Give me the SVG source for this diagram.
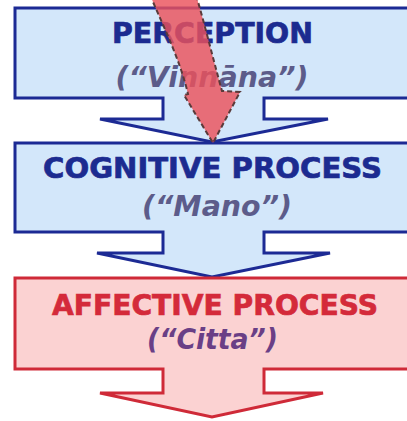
<svg xmlns="http://www.w3.org/2000/svg" width="407" height="421" viewBox="0 0 407 421">
  <style>
    .blue { fill: #d3e7fa; stroke: #1c2a94; stroke-width: 3; stroke-linejoin: miter; }
    .pink { fill: #fbd2d2; stroke: #cf2a38; stroke-width: 3; stroke-linejoin: miter; }
    .title { font-family: "DejaVu Sans", Verdana, sans-serif; font-weight: bold; font-size: 29px; text-anchor: middle; stroke-width: 0.7; }
    .sub { font-family: "DejaVu Sans", Verdana, sans-serif; font-weight: bold; font-style: italic; font-size: 28px; text-anchor: middle; }
    .t-blue { fill: #1c2b90; stroke: #1c2b90; }
    .t-red { fill: #d42a3a; stroke: #d42a3a; }
    .s-grey { fill: #5c5c8a; }
    .s-purple { fill: #6a3f86; }
    .flow { fill: #ec525c; fill-opacity: 0.82; stroke: #5a3a3a; stroke-width: 2; stroke-dasharray: 5 3; }
  </style>
  <rect width="407" height="421" fill="#ffffff"/>

  <g id="perception">
    <path class="blue" d="M15,8 H415 V98 H264 V119 H328 L212,142 L100,119 H163 V98 H15 Z"/>
    <text class="title t-blue" x="212.5" y="43" textLength="201" lengthAdjust="spacingAndGlyphs">PERCEPTION</text>
    <text class="sub s-grey" x="212" y="87" textLength="193" lengthAdjust="spacingAndGlyphs">(“Vinnāna”)</text>
  </g>

  <g id="cognitive">
    <path class="blue" d="M15,143 H415 V232 H264 V253 H330 L212,277 L97,253 H163 V232 H15 Z"/>
    <text class="title t-blue" x="212.5" y="178" textLength="339" lengthAdjust="spacingAndGlyphs">COGNITIVE PROCESS</text>
    <text class="sub s-grey" x="217" y="216" textLength="150" lengthAdjust="spacingAndGlyphs">(“Mano”)</text>
  </g>

  <g id="affective">
    <path class="pink" d="M15,278 H415 V369 H264 V393 H323 L212,417 L100,393 H163 V369 H15 Z"/>
    <text class="title t-red" x="215" y="315" textLength="326" lengthAdjust="spacingAndGlyphs">AFFECTIVE PROCESS</text>
    <text class="sub s-purple" x="212.5" y="349" textLength="131" lengthAdjust="spacingAndGlyphs">(“Citta”)</text>
  </g>

  <g id="connectors">
    <path class="flow" d="M150,-5 C165,30 180,60 188,94 L184,95 L213,143 L240,92 L222,91 C212,55 205,25 196,-5 Z"/>
  </g>
</svg>
